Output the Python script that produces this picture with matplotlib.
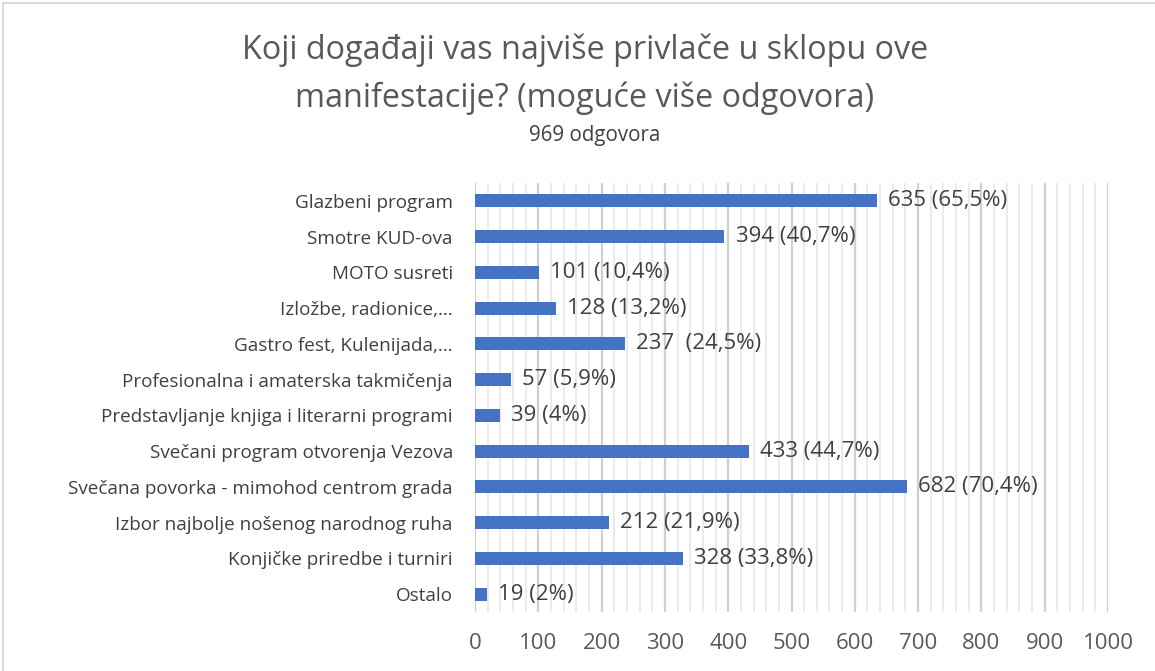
import matplotlib
matplotlib.use("Agg")
import matplotlib.pyplot as plt
from matplotlib.ticker import MultipleLocator
from matplotlib.patches import Rectangle

categories = [
    "Glazbeni program",
    "Smotre KUD-ova",
    "MOTO susreti",
    "Izložbe, radionice,…",
    "Gastro fest, Kulenijada,…",
    "Profesionalna i amaterska takmičenja",
    "Predstavljanje knjiga i literarni programi",
    "Svečani program otvorenja Vezova",
    "Svečana povorka - mimohod centrom grada",
    "Izbor najbolje nošenog narodnog ruha",
    "Konjičke priredbe i turniri",
    "Ostalo",
]
values = [635, 394, 101, 128, 237, 57, 39, 433, 682, 212, 328, 19]
value_labels = ["635 (65,5%)", "394 (40,7%)", "101 (10,4%)", "128 (13,2%)",
                "237  (24,5%)", "57 (5,9%)", "39 (4%)", "433 (44,7%)",
                "682 (70,4%)", "212 (21,9%)", "328 (33,8%)", "19 (2%)"]
x_ticks = [0, 100, 200, 300, 400, 500, 600, 700, 800, 900, 1000]

plt.rcParams['font.family'] = ['Open Sans', 'DejaVu Sans']

fig = plt.figure(figsize=(11.55, 6.71), dpi=100)
ax = fig.add_axes([475/1155, 1 - 612/671, (1108-475)/1155, (612-183)/671])

ypos = list(range(len(categories)))
ax.barh(ypos, values, height=0.36, color="#4472C4", zorder=3)
ax.set_ylim(len(categories) - 0.5, -0.5)
ax.set_xlim(0, 1000)
ax.set_yticks(ypos)
ax.set_yticklabels(categories, fontsize=13.6, color="#404040")
ax.set_xticks(x_ticks)
ax.set_xticklabels([str(t) for t in x_ticks], fontsize=16, color="#595959")
ax.xaxis.set_minor_locator(MultipleLocator(20))
ax.grid(axis='x', which='major', color="#D0D0D0", linewidth=1.6, zorder=0)
ax.grid(axis='x', which='minor', color="#E8E8E8", linewidth=1.2, zorder=0)
ax.tick_params(axis='both', which='both', length=0)
ax.tick_params(axis='x', pad=15)
ax.tick_params(axis='y', pad=16)
for s in ax.spines.values():
    s.set_visible(False)

for y, v, lab in zip(ypos, values, value_labels):
    ax.annotate(lab, (v, y), xytext=(8, 0), textcoords='offset points',
                va='center', ha='left', fontsize=16, color="#404040")

fig.text(585/1155, 1 - 50/671, "Koji događaji vas najviše privlače u sklopu ove",
         ha='center', va='center', fontsize=23.3, color="#595959")
fig.text(585/1155, 1 - 98/671, "manifestacije? (moguće više odgovora)",
         ha='center', va='center', fontsize=23.3, color="#595959")
fig.text(595/1155, 1 - 135/671, "969 odgovora",
         ha='center', va='center', fontsize=14.8, color="#404040")

fig.patches.append(Rectangle((3/1155, -0.1), 1.2, 1 - 3/671 + 0.1, transform=fig.transFigure,
                             fill=False, edgecolor="#D9D9D9", linewidth=1.5))

fig.savefig("out.png", dpi=100)
